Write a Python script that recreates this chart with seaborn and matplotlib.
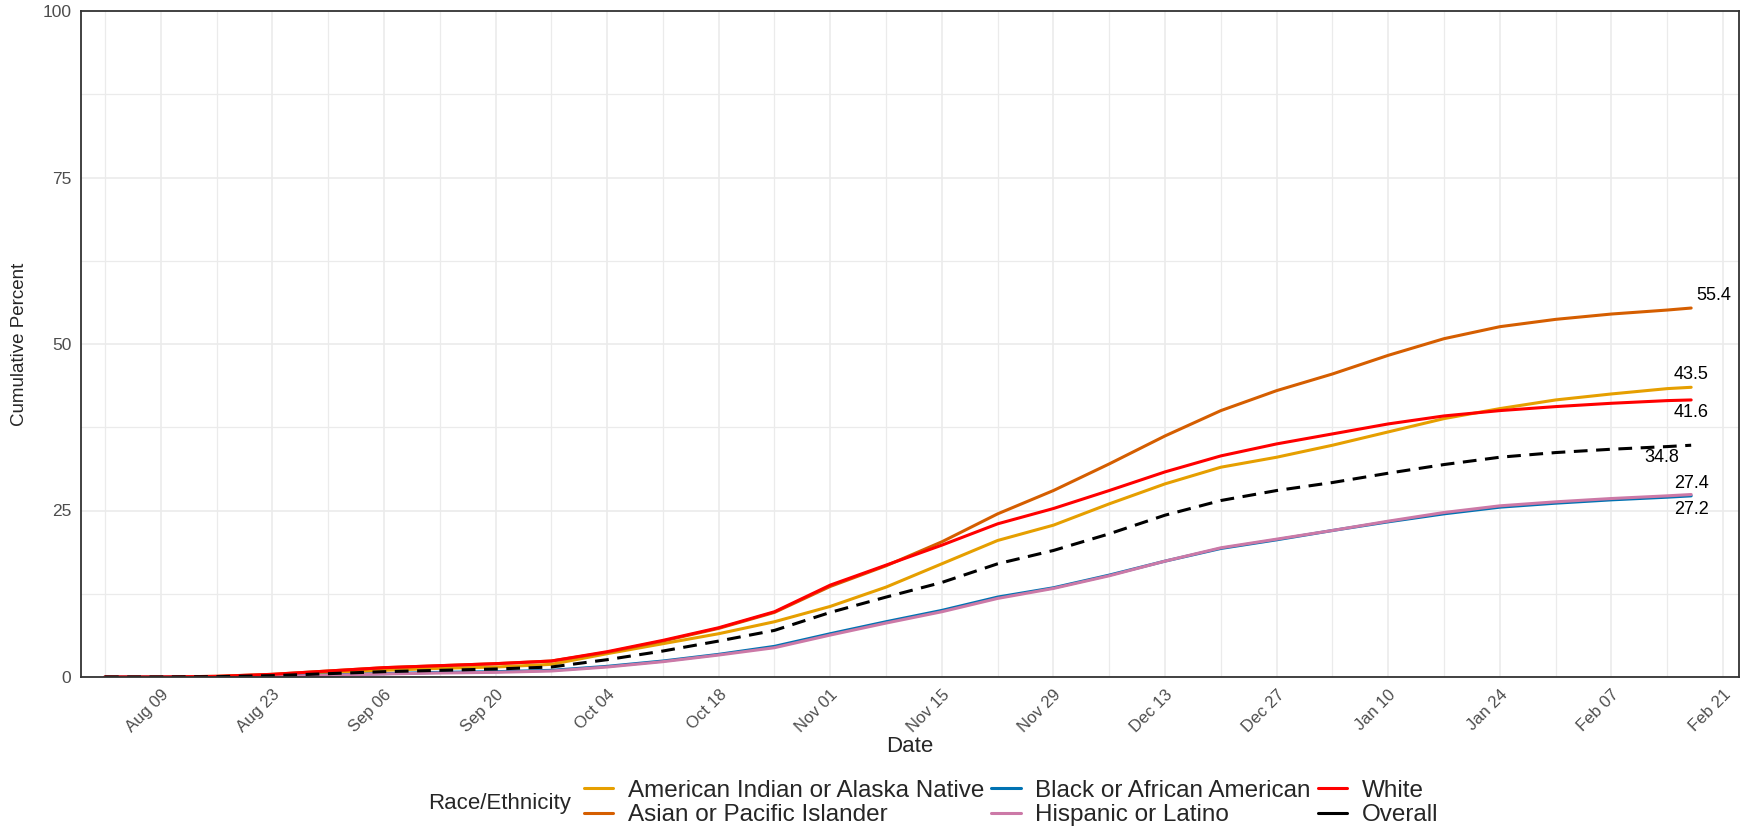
import numpy as np
import pandas as pd
import matplotlib
matplotlib.use('Agg')
import matplotlib.pyplot as plt
import matplotlib.dates as mdates
from matplotlib.lines import Line2D
import seaborn as sns

# weekly dates (Sundays) plus the last report day
dates = list(pd.date_range('2020-08-02', '2021-02-14', freq='7D')) + [pd.Timestamp('2021-02-17')]

ai_an = [0, 0, 0.05, 0.2, 0.6, 1.0, 1.3, 1.5, 1.9, 3.5, 5.0, 6.5, 8.3, 10.6, 13.5, 17.0,
         20.5, 22.8, 26.0, 29.0, 31.5, 33.0, 34.8, 36.8, 38.8, 40.3, 41.6, 42.5, 43.3, 43.5]
asian_pi = [0, 0, 0.1, 0.4, 0.9, 1.4, 1.7, 2.0, 2.4, 3.7, 5.4, 7.3, 9.7, 13.6, 16.7, 20.3,
            24.5, 28.0, 32.0, 36.2, 40.0, 43.0, 45.5, 48.3, 50.8, 52.6, 53.7, 54.5, 55.1, 55.4]
black_aa = [0, 0, 0.02, 0.1, 0.3, 0.5, 0.7, 0.8, 1.0, 1.6, 2.4, 3.4, 4.6, 6.5, 8.3, 10.0,
            12.0, 13.4, 15.3, 17.4, 19.3, 20.6, 22.0, 23.3, 24.5, 25.5, 26.1, 26.6, 27.0, 27.2]
hispanic = [0, 0, 0.02, 0.08, 0.25, 0.45, 0.6, 0.7, 0.9, 1.5, 2.3, 3.3, 4.4, 6.3, 8.1, 9.8,
            11.8, 13.3, 15.2, 17.4, 19.4, 20.7, 22.0, 23.4, 24.7, 25.7, 26.3, 26.8, 27.2, 27.4]
white = [0, 0, 0.1, 0.4, 0.9, 1.4, 1.7, 2.0, 2.4, 3.8, 5.5, 7.4, 9.8, 13.8, 16.8, 19.8,
         23.0, 25.3, 28.0, 30.8, 33.2, 35.0, 36.5, 38.0, 39.2, 40.0, 40.6, 41.1, 41.5, 41.6]
overall = [0, 0, 0.05, 0.2, 0.5, 0.8, 1.0, 1.2, 1.5, 2.6, 3.9, 5.4, 7.0, 9.7, 12.0, 14.2,
           17.0, 19.0, 21.5, 24.3, 26.5, 28.0, 29.2, 30.6, 31.9, 33.0, 33.7, 34.2, 34.6, 34.8]

groups = ['American Indian or Alaska Native', 'Asian or Pacific Islander',
          'Black or African American', 'Hispanic or Latino', 'White']
colors = ['#E69F00', '#D55E00', '#0072B2', '#CC79A7', '#FF0000']

# end-of-series labels: value, x offset, y offset (points)
end_vals = [55.4, 43.5, 41.6, 34.8, 27.4, 27.2]
end_dx = [16, 0, 0, -21, 0, 0]
end_dy = [9, 9, -9, -9, 8, -10]

df = pd.DataFrame({'date': dates * 5,
                   'pct': ai_an + asian_pi + black_aa + hispanic + white,
                   'group': np.repeat(groups, len(dates))})

sns.set_style('white')
plt.rcParams['font.family'] = ['Liberation Sans', 'DejaVu Sans']

fig = plt.figure(figsize=(17.48, 8.27), dpi=100)
ax = fig.add_axes([81/1748, 1-677/827, 1658/1748, 666/827])

sns.lineplot(data=df, x='date', y='pct', hue='group', hue_order=groups,
             palette=colors, linewidth=2.2, legend=False, ax=ax)
ax.plot(dates, overall, color='black', linewidth=2.2, dashes=(4.5, 2.8))

for val, dx, dy in zip(end_vals, end_dx, end_dy):
    ax.annotate(f'{val}', (dates[-1], val), xytext=(dx, dy), textcoords='offset points',
                ha='center', va='center', fontsize=13, color='black')

ax.set_ylim(0, 100)
ax.set_yticks([0, 25, 50, 75, 100])
ax.set_yticks([12.5, 37.5, 62.5, 87.5], minor=True)
ax.set_xlim(pd.Timestamp('2020-07-30'), pd.Timestamp('2021-02-23'))
ax.set_xticks(pd.date_range('2020-08-09', '2021-02-21', freq='14D'))
ax.set_xticks(pd.date_range('2020-08-02', '2021-02-21', freq='14D'), minor=True)
ax.xaxis.set_major_formatter(mdates.DateFormatter('%b %d'))
plt.setp(ax.get_xticklabels(), rotation=45, ha='right', rotation_mode='anchor')

ax.grid(which='major', color='#EBEBEB', linewidth=1.2)
ax.grid(which='minor', color='#EBEBEB', linewidth=0.9)
ax.set_axisbelow(True)
for s in ax.spines.values():
    s.set_color('#333333')
    s.set_linewidth(1.3)
ax.tick_params(which='major', length=4, width=1.1, color='#333333',
               labelsize=12.5, labelcolor='#4D4D4D', direction='out', pad=3)
ax.tick_params(axis='x', labelsize=12)
ax.tick_params(which='minor', length=0)

ax.set_xlabel('Date', fontsize=16, labelpad=1)
ax.set_ylabel('Cumulative Percent', fontsize=13.5)
ax.yaxis.set_label_coords(-0.032, 0.5)

handles = [Line2D([], [], color=c, linewidth=2.2) for c in colors]
handles += [Line2D([], [], color='black', linewidth=2.2)]
labels = groups + ['Overall']
fig.legend(handles, labels, ncol=3, loc='center left', bbox_to_anchor=(584/1748, 1-803/827),
           frameon=False, fontsize=17.5, handlelength=1.2, handletextpad=0.6,
           columnspacing=0.3, labelspacing=0.1, borderpad=0, borderaxespad=0)
fig.text(571/1748, 1-803/827, 'Race/Ethnicity', ha='right', va='center', fontsize=16)

fig.savefig('out.png', dpi=100)
